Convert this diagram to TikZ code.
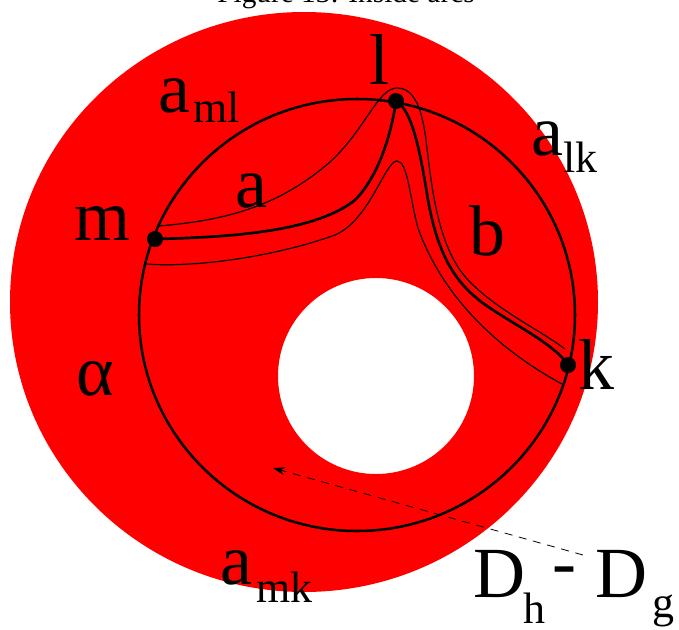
\documentclass[tikz,border=0pt]{standalone}
\usepackage{fontspec}
\setmainfont{Liberation Serif}
\usetikzlibrary{arrows.meta}
\tikzset{
  lab/.style={font=\fontsize{54}{58}\selectfont, inner sep=0, anchor=base west},
  sublab/.style={font=\fontsize{33}{36}\selectfont, inner sep=0, anchor=base west},
  vdot/.style={circle, fill=black, inner sep=0, minimum size=12pt},
  thickarc/.style={line width=2pt},
  thinarc/.style={line width=0.9pt},
}
\begin{document}
\begin{tikzpicture}[x=0.75pt,y=-0.75pt]
\useasboundingbox (0,0) rectangle (679,629);
% caption (cut off at top)
\node[font=\fontsize{22}{24}\selectfont, inner sep=0, anchor=base] (cap) at (346,2) {Figure 13: Inside arcs};
% red annulus
\fill[red, even odd rule] (304,302) ellipse [x radius=220.5pt, y radius=217.5pt]
  (376,376) ellipse [x radius=73.5pt, y radius=73.5pt];
% inner boundary circle
\draw[line width=1.9pt] (357,315) ellipse [x radius=163.5pt, y radius=162pt];
% vertices
\node[vdot] (m) at (155,239) {};
\node[vdot] (l) at (396,101) {};
\node[vdot] (k) at (568,365) {};
% thick arcs a and b
\draw[thickarc] (m.center) .. controls (250,237) and (320,228) .. (355,200)
  .. controls (380,175) and (392,130) .. (l.center);
\draw[thickarc] (l.center) .. controls (412,110) and (420,150) .. (428,200)
  .. controls (438,255) and (455,285) .. (490,308)
  .. controls (520,328) and (555,345) .. (k.center);
% thin parallel curves
\coordinate (o1) at (159,226);
\coordinate (o2) at (565,349);
\draw[thinarc] (o1) .. controls (230,220) and (280,205) .. (330,162)
  .. controls (365,130) and (378,88) .. (397,88)
  .. controls (415,88) and (422,110) .. (426,140)
  .. controls (432,190) and (438,250) .. (470,282)
  .. controls (500,312) and (540,330) .. (o2);
\coordinate (i1) at (146,264);
\coordinate (i2) at (562,384);
\draw[thinarc] (i1) .. controls (200,268) and (280,255) .. (335,235)
  .. controls (370,220) and (385,161) .. (397,161)
  .. controls (408,161) and (410,200) .. (418,228)
  .. controls (440,290) and (490,345) .. (i2);
% labels
\node[lab, anchor=base] (ll) at (379,84) {l};
\node[lab] (aml) at (158,112) {a};
\node[sublab] (amls) at (193,122) {ml};
\node[lab] (alk) at (531,155) {a};
\node[sublab] (alks) at (563,172) {lk};
\node[lab] (la) at (235,207) {a};
\node[lab] (lb) at (469,255) {b};
\node[lab] (lm) at (74,240) {m};
\node[lab] (lk) at (578,389) {k};
\node[lab] (lal) at (76,395) {α};
\node[lab] (amk) at (220,584) {a};
\node[sublab] (amks) at (256,602) {mk};
\node[lab] (dh) at (473,597) {D};
\node[sublab] (dhs) at (523,623) {h};
\node[lab] (minus) at (552,586) {-};
\node[lab] (dg) at (595,597) {D};
\node[sublab] (dgs) at (652,617) {g};
% dashed pointer
\coordinate (ps) at (583,555);
\coordinate (pe) at (273,468);
\draw[line width=0.6pt, dash pattern=on 6pt off 5pt, -{Stealth[length=9pt,width=6pt]}] (ps) -- (pe);
\end{tikzpicture}
\end{document}
